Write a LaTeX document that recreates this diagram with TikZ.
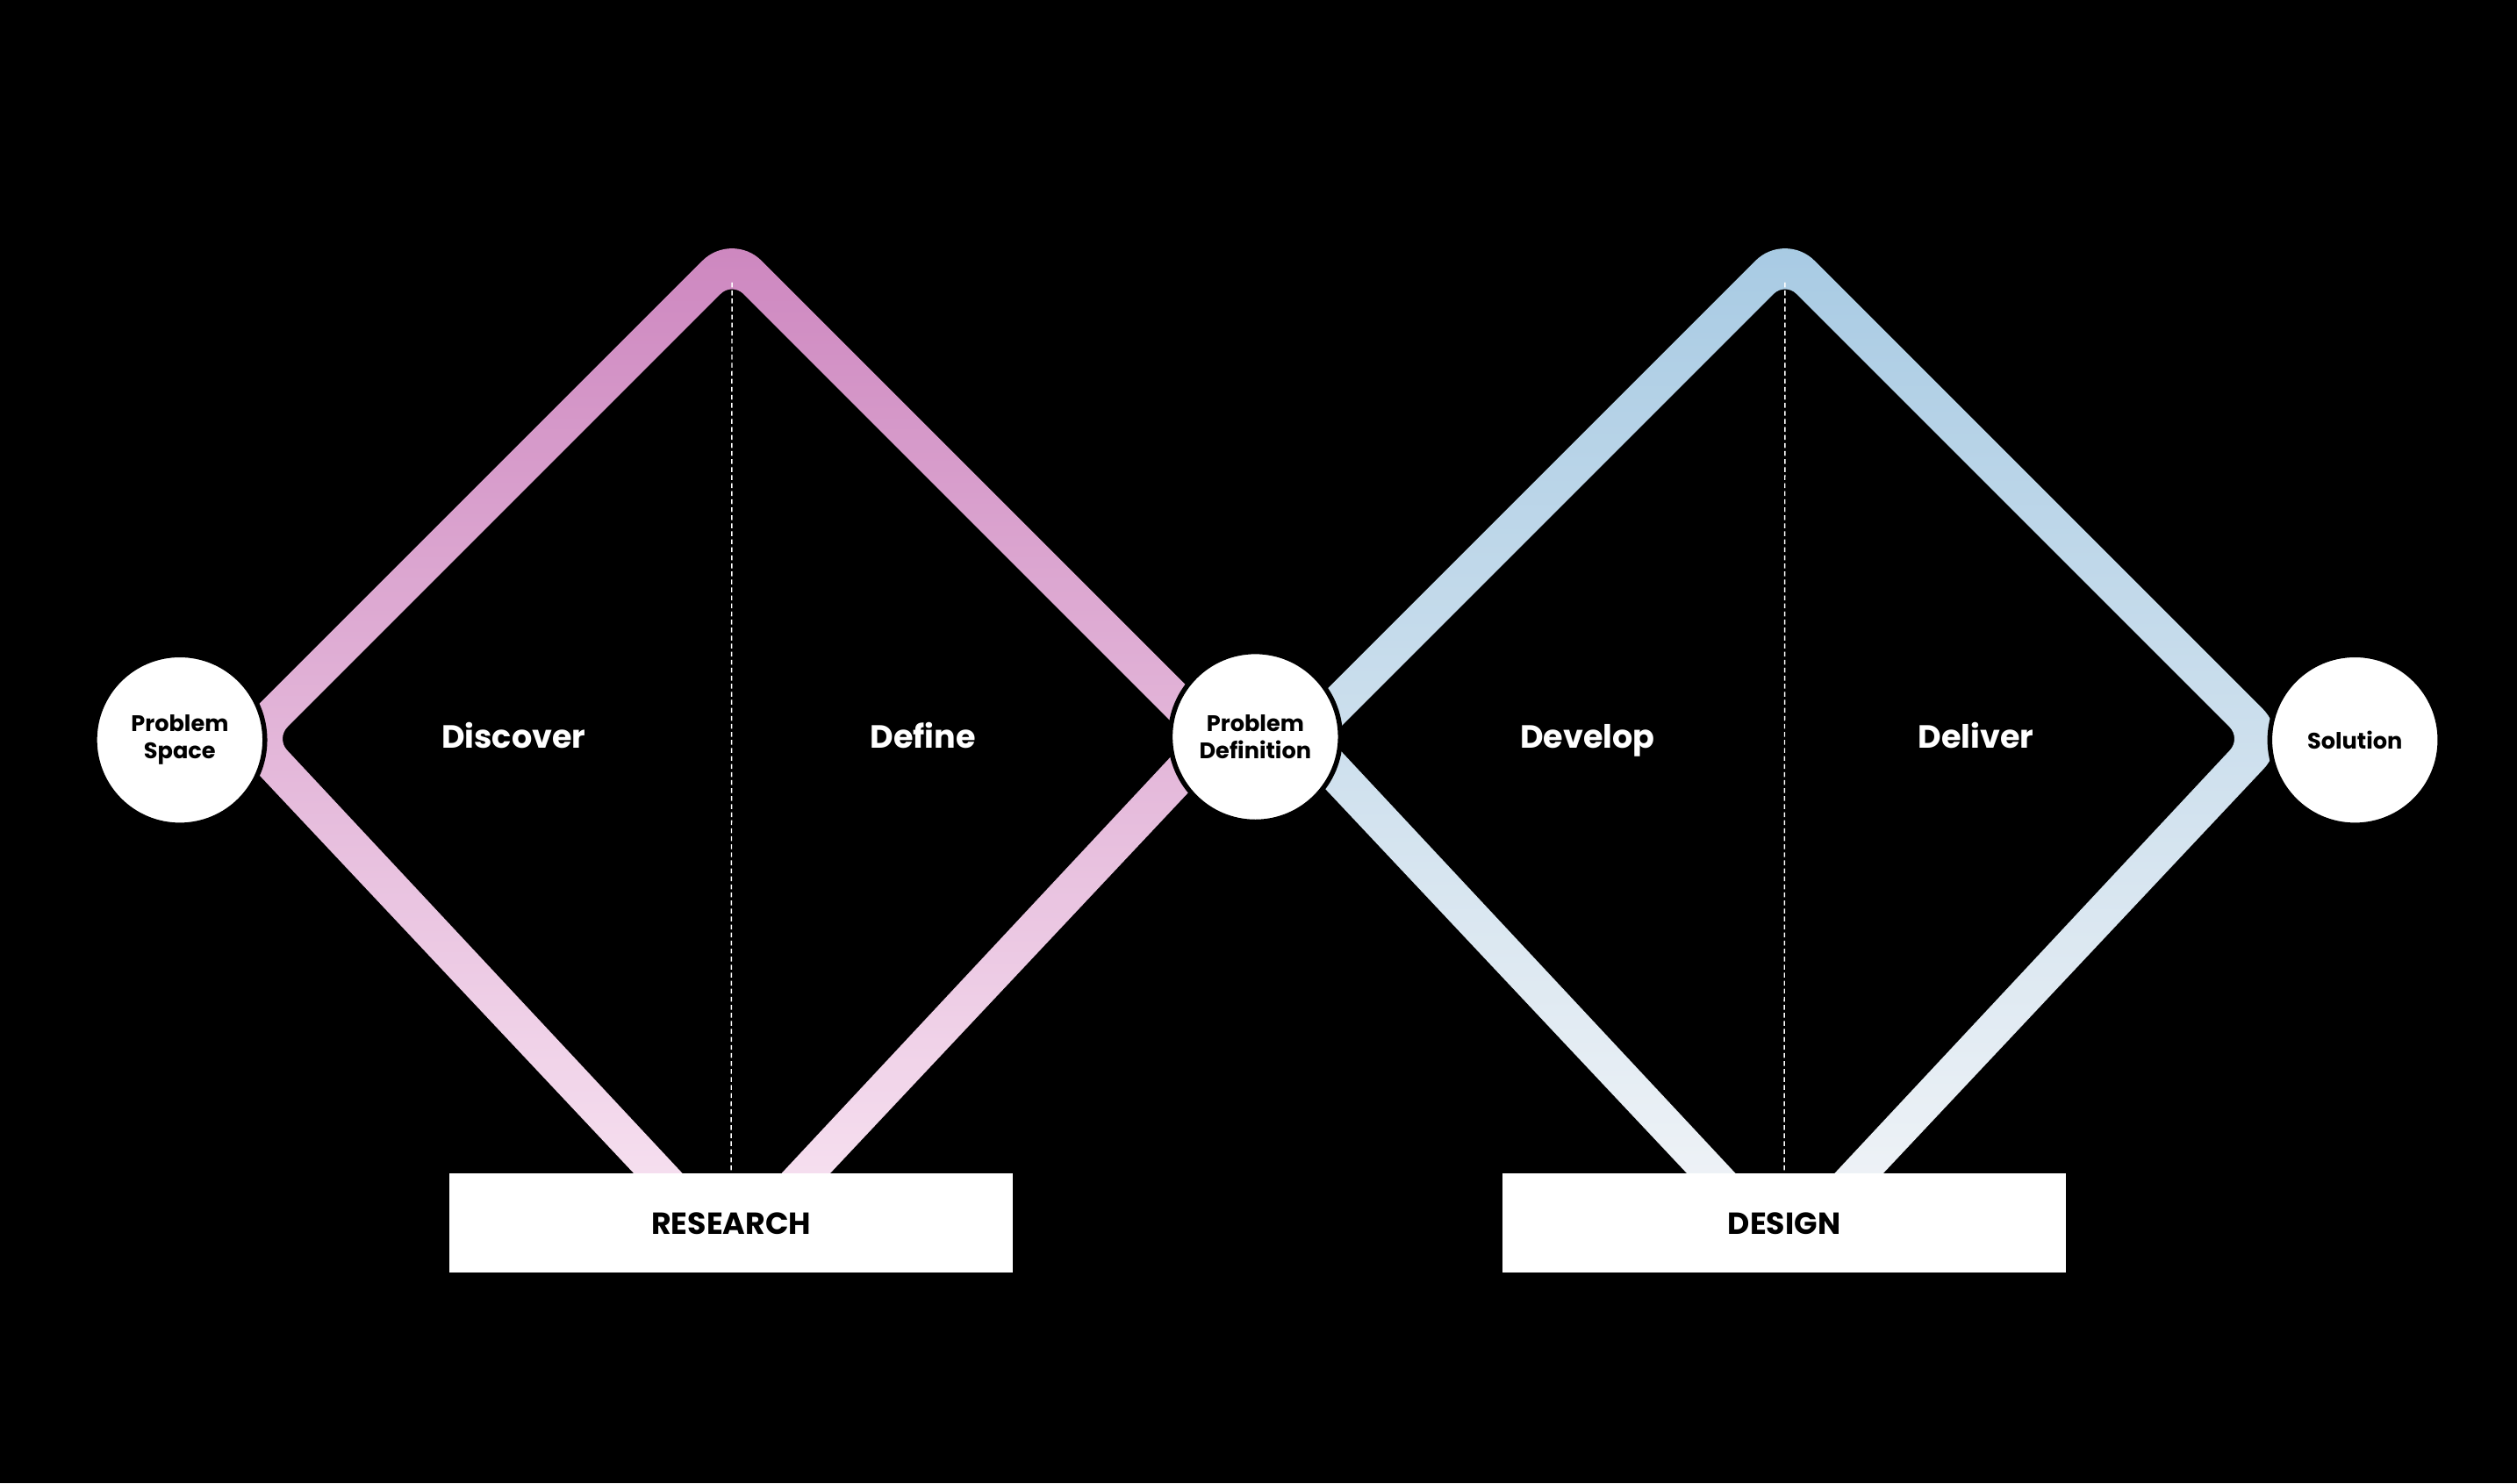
\documentclass[tikz,border=0pt]{standalone}
\usepackage{fontspec}
\setmainfont{Poppins}
\begin{document}
\begin{tikzpicture}[x=1pt,y=-1pt,
  circ/.style={circle,fill=white,draw=black,line width=3pt,minimum size=106pt,inner sep=0pt,align=center,font=\fontsize{14}{17}\selectfont\bfseries},
  phase/.style={text=white,anchor=base,font=\fontsize{20}{24}\selectfont\bfseries},
  box/.style={fill=white,minimum width=351pt,minimum height=62pt,inner sep=0pt,font=\fontsize{19}{22}\selectfont\bfseries},
  divider/.style={white,line width=0.8pt,dash pattern=on 3pt off 2pt}]
\fill[black] (0,0) rectangle (1568,924);
\definecolor{pinkT}{HTML}{CD86BF}\definecolor{pinkB}{HTML}{FAE8F4}
\definecolor{blueT}{HTML}{A7CAE3}\definecolor{blueB}{HTML}{F5F6F8}
% diamonds
\shade[top color=pinkT,bottom color=pinkB,even odd rule]
  [rounded corners=26pt] (456,144)--(772,460)--(456,796)--(140,460)--cycle
  [rounded corners=10pt] (456,176)--(740,460)--(456,764)--(172,460)--cycle;
\shade[top color=blueT,bottom color=blueB,even odd rule]
  [rounded corners=26pt] (1112,144)--(1428,460)--(1112,796)--(796,460)--cycle
  [rounded corners=10pt] (1112,176)--(1396,460)--(1112,764)--(828,460)--cycle;
\coordinate (t1) at (456,176); \coordinate (t2) at (1112,176);
\node[box] (research) at (455.5,762) {RESEARCH};
\node[box] (design) at (1111.5,762) {DESIGN};
\draw[divider] (t1) -- (research.north);
\draw[divider] (t2) -- (design.north);
\node[circ] (ps) at (112,461) {Problem\\Space};
\node[circ] (pd) at (782,459) {Problem\\Definition};
\node[circ] (sol) at (1467,461) {Solution};
\node[phase] (discover) at (320,466) {Discover};
\node[phase] (define) at (575,466) {Define};
\node[phase] (develop) at (989,466) {Develop};
\node[phase] (deliver) at (1231,466) {Deliver};
\end{tikzpicture}
\end{document}
